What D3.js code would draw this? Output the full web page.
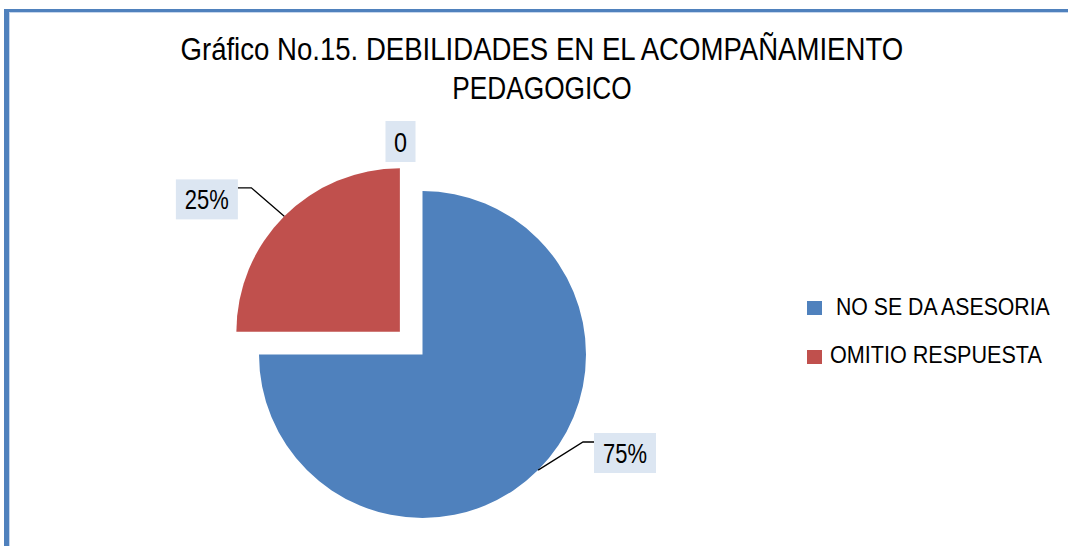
<!DOCTYPE html>
<html><head><meta charset="utf-8">
<script src="https://cdn.jsdelivr.net/npm/d3@7"></script>
<style>html,body{margin:0;padding:0;background:#fff;}svg{display:block;}</style>
</head><body>
<svg id="c" width="1068" height="546"></svg>
<script>
// ---- data ----
const titleLines = ["Gráfico No.15. DEBILIDADES EN EL ACOMPAÑAMIENTO", "PEDAGOGICO"];
const categories = ["NO SE DA ASESORIA", "OMITIO RESPUESTA", ""];
const values = [75, 25, 0];
const labels = ["75%", "25%", "0"];
const legendCategories = ["NO SE DA ASESORIA", "OMITIO RESPUESTA"];

// ---- styles / layout ----
const colors = ["#4F81BD", "#C0504D", "#9BBB59"];
const FONT = "'Liberation Sans Narrow','Liberation Sans',Arial,sans-serif";
const W = 1068, H = 546;
const cx = 422.5, cy = 354.5, R = 163.5;
const explode = [0, 32, 0];
// label boxes relative to slice center
const labelBox = [
  {dx: 202.5, dy: 98.5, w: 62, h: 40, tw: 44, elbow: [160.5, 87.5]},
  {dx: -193, dy: -132.5, w: 62, h: 40, tw: 44, elbow: [-148.5, -144]},
  {dx: -22, dy: -213, w: 30, h: 41, tw: 13, elbow: null}
];

const svg = d3.select("#c");
svg.append("rect").attr("width", W).attr("height", H).attr("fill", "#fff");

// frame
svg.append("rect").attr("x", 4).attr("y", 9).attr("width", 5).attr("height", H - 9).attr("fill", "#4F81BD");
svg.append("rect").attr("x", 4).attr("y", 9).attr("width", W - 4).attr("height", 3).attr("fill", "#4F81BD");
svg.append("rect").attr("x", 9).attr("y", 12).attr("width", 1).attr("height", H - 12).attr("fill", "#c6d6ec");
svg.append("rect").attr("x", 9).attr("y", 12).attr("width", W - 9).attr("height", 1).attr("fill", "#c6d6ec");

// horizontally squeezed text helper (keeps true bounding box)
function squeezedText(parent, str, x, y, size, width, anchor) {
  const t = parent.append("text").attr("font-family", FONT).attr("font-size", size)
    .attr("fill", "#000").text(str);
  const nat = t.node().getComputedTextLength();
  const s = width / nat;
  const x0 = anchor === "middle" ? x - width / 2 : x;
  t.attr("transform", `translate(${x0},${y}) scale(${s},1)`);
  return t;
}

// title
const titleW = [723, 179.5];
const titleY = [60, 99.3];
titleLines.forEach((t, i) => squeezedText(svg, t, 542, titleY[i], 31.5, titleW[i], "middle"));

// pie
const pie = d3.pie().sort(null).value(d => d).startAngle(0).endAngle(2 * Math.PI);
const arcs = pie(values);
const arc = d3.arc().innerRadius(0).outerRadius(R);

function sliceCenter(a, i) {
  const mid = (a.startAngle + a.endAngle) / 2;
  const e = explode[i];
  return [cx + e * Math.sin(mid), cy - e * Math.cos(mid)];
}

const g = svg.append("g");
arcs.forEach((a, i) => {
  if (a.value <= 0) return;
  const [sx, sy] = sliceCenter(a, i);
  g.append("path").attr("d", arc(a)).attr("transform", `translate(${sx},${sy})`)
    .attr("fill", colors[i]);
});

// labels and leader lines
arcs.forEach((a, i) => {
  const mid = (a.startAngle + a.endAngle) / 2;
  let sx, sy;
  if (a.value > 0) { [sx, sy] = sliceCenter(a, i); }
  else { sx = cx; sy = cy; }
  const lb = labelBox[i];
  const bx = sx + lb.dx, by = sy + lb.dy;
  if (lb.elbow) {
    const p0 = [sx + R * Math.sin(mid), sy - R * Math.cos(mid)];
    const p1 = [sx + lb.elbow[0], sy + lb.elbow[1]];
    const edgeX = lb.dx > 0 ? bx - lb.w / 2 : bx + lb.w / 2;
    svg.append("path").attr("d", d3.line()([p0, p1, [edgeX, p1[1]]]))
      .attr("fill", "none").attr("stroke", "#000").attr("stroke-width", 1.3);
  }
  svg.append("rect").attr("x", bx - lb.w / 2).attr("y", by - lb.h / 2)
    .attr("width", lb.w).attr("height", lb.h).attr("fill", "#DCE6F2");
  squeezedText(svg, labels[i], bx, by + 10, 27.5, lb.tw, "middle");
});

// legend
const legX = 807, legY = [301, 350];
const legTextX = [836, 830], legTextW = [214, 212], legBase = [315, 363.3];
legendCategories.forEach((c, i) => {
  svg.append("rect").attr("x", legX).attr("y", legY[i]).attr("width", 15).attr("height", 14)
    .attr("fill", colors[i]);
  squeezedText(svg, c, legTextX[i], legBase[i], 24, legTextW[i], "start");
});
</script>
</body></html>
